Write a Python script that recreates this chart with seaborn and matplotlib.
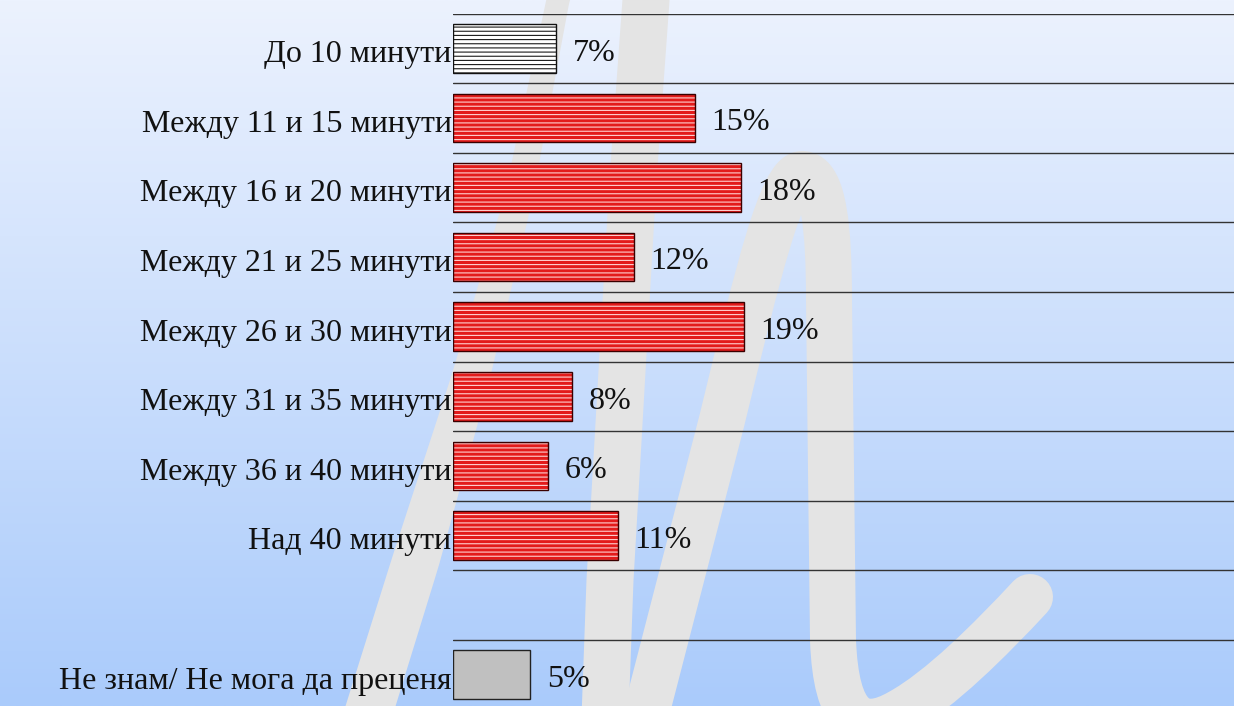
import numpy as np
import pandas as pd
import matplotlib
matplotlib.use("Agg")
import matplotlib.pyplot as plt
import matplotlib.transforms as mtransforms
import seaborn as sns
from matplotlib.path import Path
from matplotlib.patches import PathPatch, Polygon, Rectangle

# ---------------- data ----------------
categories = ["До 10 минути", "Между 11 и 15 минути", "Между 16 и 20 минути",
              "Между 21 и 25 минути", "Между 26 и 30 минути", "Между 31 и 35 минути",
              "Между 36 и 40 минути", "Над 40 минути", " ",
              "Не знам/ Не мога да преценя"]
values = [6.62, 15.47, 18.42, 11.59, 18.63, 7.60, 6.08, 10.56, np.nan, 4.93]
face_colors = ["#ffffff", "#e31b1b", "#e31b1b", "#e31b1b", "#e31b1b", "#e31b1b",
               "#e31b1b", "#e31b1b", "#ffffff", "#c0c0c0"]
hatch_colors = ["#1a1a1a", "#ffd0d0", "#ffd0d0", "#ffd0d0", "#ffd0d0", "#ffd0d0",
                "#ffd0d0", "#ffd0d0", None, None]
edge_colors = ["#111111", "#3a0000", "#3a0000", "#3a0000", "#3a0000", "#3a0000",
               "#3a0000", "#3a0000", "#111111", "#222222"]

df = pd.DataFrame({"cat": categories, "val": values})

# ---------------- style ----------------
sns.set_style("white")
plt.rcParams["font.family"] = ["Liberation Serif", "DejaVu Serif"]
plt.rcParams["hatch.linewidth"] = 0.8

W, H = 1234, 706
fig = plt.figure(figsize=(W / 100, H / 100), dpi=100)

# ---------------- background gradient + watermark ----------------
bg = fig.add_axes([0, 0, 1, 1], zorder=-5)
top = np.array([0xec, 0xf2, 0xfe]) / 255
bot = np.array([0xaa, 0xcb, 0xfb]) / 255
t = np.linspace(0, 1, 256)[:, None, None]
grad = top[None, None, :] * (1 - t) + bot[None, None, :] * t
grad = np.repeat(grad, 2, axis=1)
bg.imshow(grad, extent=[0, W, H, 0], aspect="auto", interpolation="bilinear")
bg.set_xlim(0, W)
bg.set_ylim(H, 0)
bg.axis("off")

wm = "#e4e4e4"
px2pt = 0.72


def taper_stroke(ax, pts, widths, color):
    pts = np.asarray(pts, float)
    widths = np.asarray(widths, float)
    n = 60
    s = np.linspace(0, len(pts) - 1, n)
    xs = np.interp(s, np.arange(len(pts)), pts[:, 0])
    ys = np.interp(s, np.arange(len(pts)), pts[:, 1])
    ws = np.interp(s, np.arange(len(pts)), widths)
    dx = np.gradient(xs)
    dy = np.gradient(ys)
    ln = np.hypot(dx, dy)
    nx, ny = -dy / ln, dx / ln
    left = np.c_[xs + nx * ws / 2, ys + ny * ws / 2]
    right = np.c_[xs - nx * ws / 2, ys - ny * ws / 2]
    poly = np.vstack([left, right[::-1]])
    ax.add_patch(Polygon(poly, closed=True, facecolor=color, edgecolor="none"))


# stroke A (tapering up-stroke)
taper_stroke(bg, [(568, -30), (558, 0), (518, 200), (470, 380), (416, 560), (360, 740)],
             [22, 23, 28, 38, 47, 48], wm)

# stroke B
pB = Path([(650, -30), (646, 0), (633, 180), (610, 580), (604, 745)],
          [Path.MOVETO, Path.LINETO, Path.LINETO, Path.LINETO, Path.LINETO])
bg.add_patch(PathPatch(pB, facecolor="none", edgecolor=wm, lw=47 * px2pt,
                       capstyle="round", joinstyle="round"))

# stroke C + D + curl
vertsC = [(638, 745), (722, 420),
          (758, 272), (782, 172), (803, 174),
          (824, 176), (829, 230), (829, 300),
          (833, 640),
          (836, 720), (860, 735), (900, 712),
          (940, 690), (990, 640), (1030, 597)]
codesC = [Path.MOVETO, Path.LINETO,
          Path.CURVE4, Path.CURVE4, Path.CURVE4,
          Path.CURVE4, Path.CURVE4, Path.CURVE4,
          Path.LINETO,
          Path.CURVE4, Path.CURVE4, Path.CURVE4,
          Path.CURVE4, Path.CURVE4, Path.CURVE4]
bg.add_patch(PathPatch(Path(vertsC, codesC), facecolor="none", edgecolor=wm,
                       lw=46 * px2pt, capstyle="round", joinstyle="round"))

# ---------------- main bar axes ----------------
slot = 69.6
top_px = 13.5
n = len(categories)
ax_bottom = 1 - (top_px + n * slot) / H
ax_height = n * slot / H
ax = fig.add_axes([453 / W, ax_bottom, 1 - 453 / W, ax_height])
ax.patch.set_alpha(0)

palette = dict(zip(categories, face_colors))
sns.barplot(data=df, y="cat", x="val", hue="cat", palette=palette, order=categories,
            hue_order=categories, orient="h", width=0.70, legend=False,
            errorbar=None, ax=ax, linewidth=0, saturation=1)

# hatching and outlines
for p in list(ax.patches):
    w = p.get_width()
    if not np.isfinite(w):
        continue
    idx = int(round(p.get_y() + p.get_height() / 2))
    hc = hatch_colors[idx]
    if hc is not None:
        p.set_hatch("----")
        p.set_edgecolor(hc)
        p.set_linewidth(0)
    ax.add_patch(Rectangle(p.get_xy(), w, p.get_height(), fill=False,
                           edgecolor=edge_colors[idx], lw=1.0, zorder=p.get_zorder() + 0.1))

for c in ax.containers:
    vals = c.datavalues
    labels = ["" if not np.isfinite(v) else f"{v:.0f}%" for v in vals]
    texts = ax.bar_label(c, labels=labels, padding=12, fontsize=23, color="#111111")
    for tx in texts:
        tx.xyann = (12, -3.5)

ax.set_xlim(0, 50)
ax.set_ylim(n - 0.5, -0.5)
ax.set_yticks(np.arange(n), labels=categories)
ax.set_yticks(np.arange(n) - 0.5, minor=True)
ax.grid(False)
ax.grid(True, which="minor", axis="y", color="#333333", lw=1.0)
ax.set_axisbelow(True)
ax.set_xticks([])
ax.tick_params(axis="y", which="both", length=0, pad=1, labelsize=23, labelcolor="#111111")
shift = mtransforms.ScaledTranslation(0, -3 / 100, fig.dpi_scale_trans)
for lab in ax.get_yticklabels():
    lab.set_transform(lab.get_transform() + shift)
ax.set_xlabel("")
ax.set_ylabel("")
for s in ax.spines.values():
    s.set_visible(False)

fig.savefig("out.png", dpi=100)
